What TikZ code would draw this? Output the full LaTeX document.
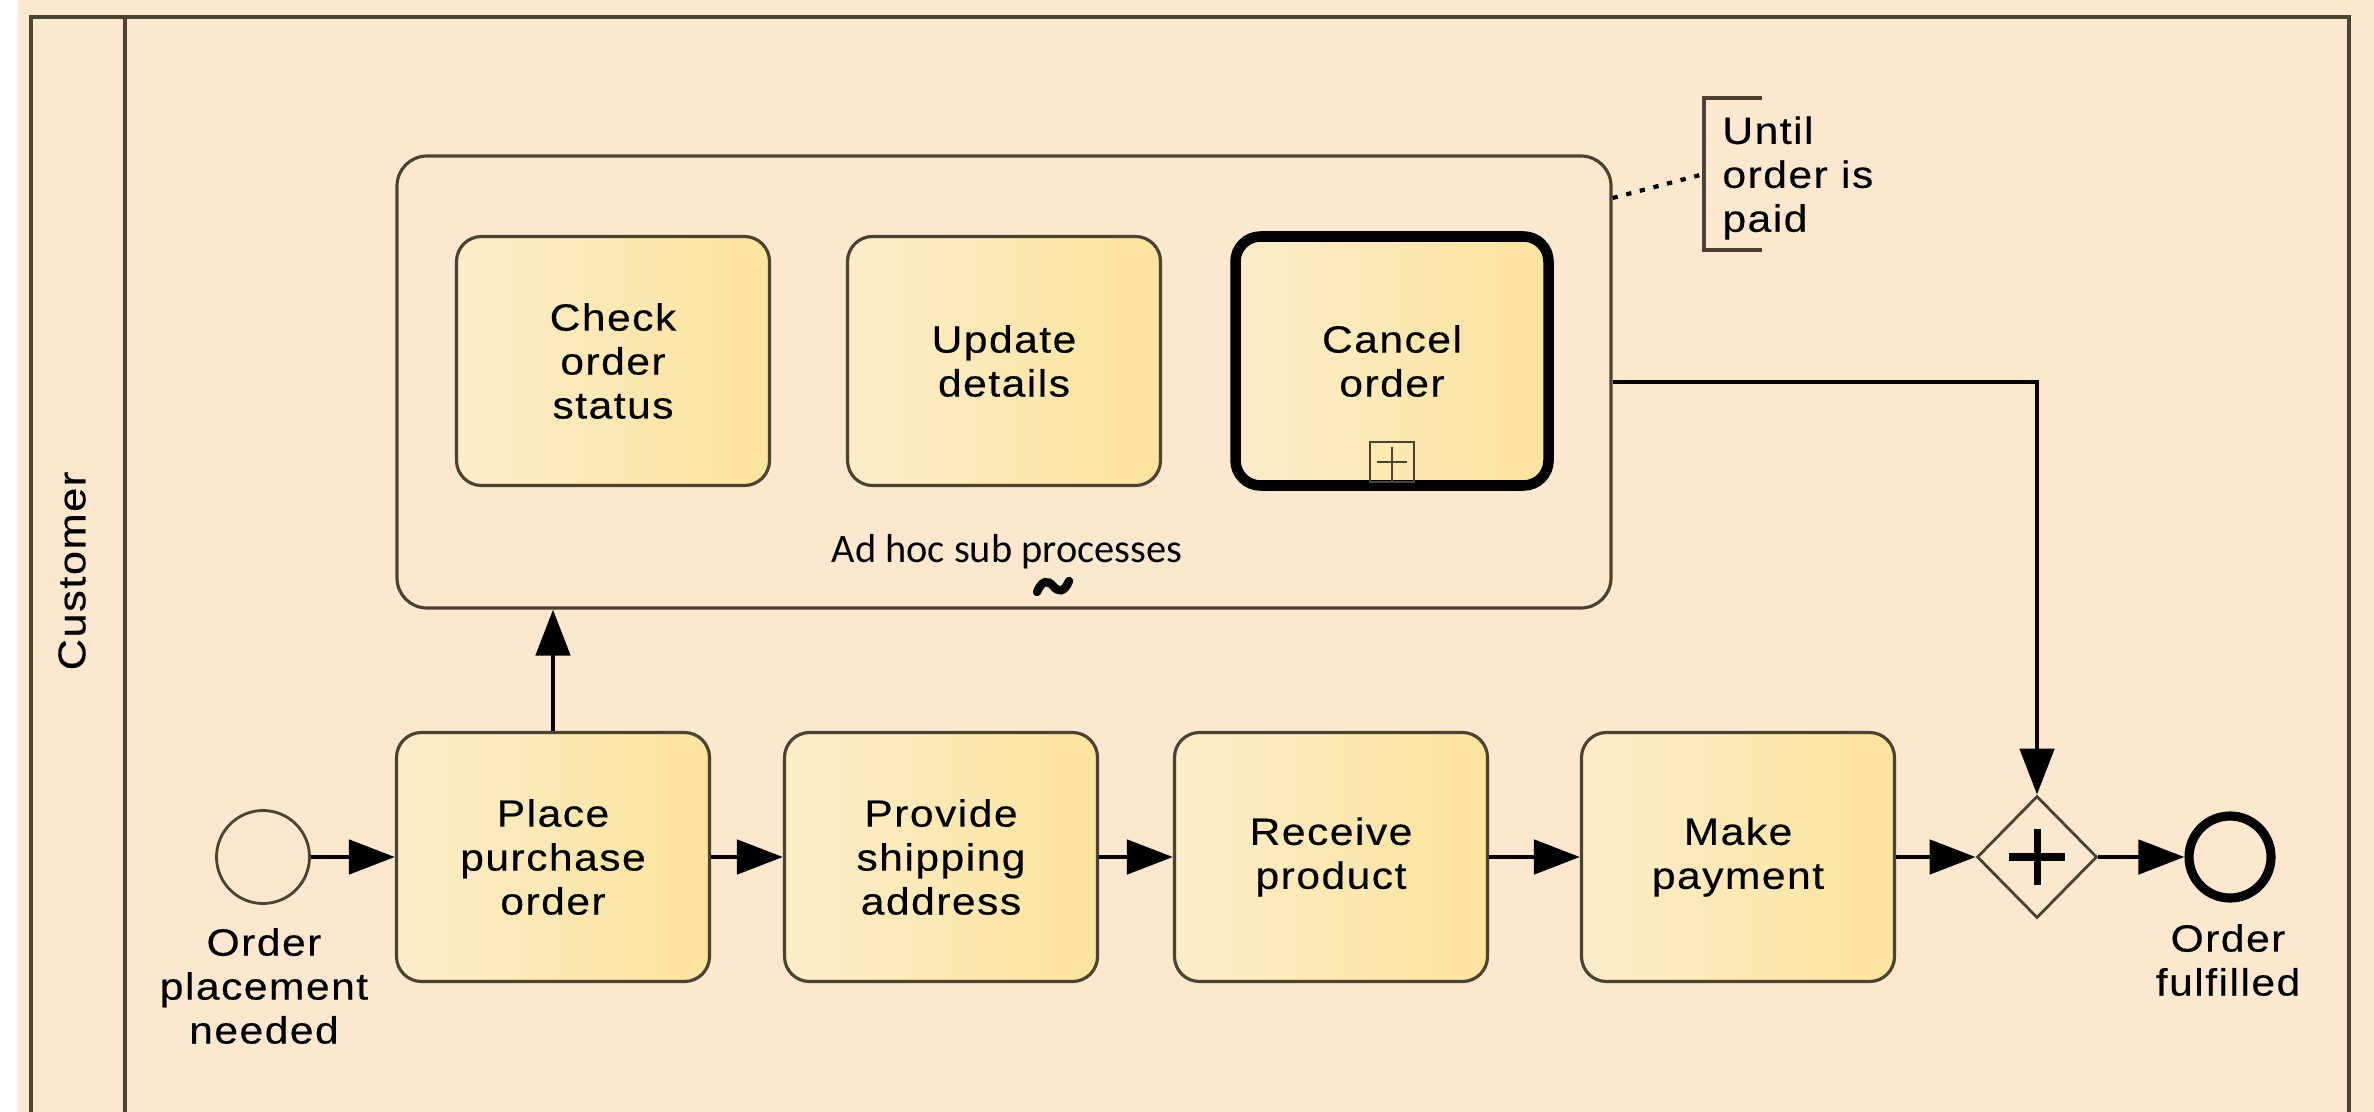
\documentclass[tikz,border=0pt]{standalone}
\usepackage{fontspec}
\setmainfont{Liberation Sans}[LetterSpace=4,FakeStretch=1.12,FakeBold=0.4]
\newfontfamily\notefont{Carlito}
\usetikzlibrary{arrows.meta,shapes.geometric,positioning}
\definecolor{paper}{RGB}{251,232,207}
\definecolor{taskL}{RGB}{252,237,202}
\definecolor{taskR}{RGB}{251,228,155}
\definecolor{edge}{RGB}{75,66,50}

\begin{document}
\begin{tikzpicture}[x=1cm,y=-1cm,
  every node/.style={font=\fontsize{10.8}{12.5}\selectfont},
  task/.style={draw=edge,line width=0.9pt,rounded corners=0.25cm,left color=taskL,right color=taskR,
    minimum width=3.13cm,minimum height=2.49cm,align=center},
  flow/.style={line width=1.4pt,-{Triangle[length=0.46cm,width=0.34cm]}}]
\fill[white] (0,0) rectangle (23.74,11.12);
\fill[paper] (0.18,0) rectangle (23.74,11.12);
\useasboundingbox (0,0) rectangle (23.74,11.12);

% pool and lane
\draw[edge,line width=1pt] (0.31,11.3) -- (0.31,0.17) -- (23.49,0.17) -- (23.49,11.3);
\draw[edge,line width=1pt] (1.25,0.17) -- (1.25,11.3);
\node[rotate=90,font=\fontsize{11}{13}\selectfont] (lane) at (0.72,5.71) {Customer};

% ad hoc sub process
\node[draw=edge,line width=0.9pt,rounded corners=0.3cm,minimum width=12.14cm,minimum height=4.52cm] (adhoc) at (10.04,3.82) {};
\node[task] (check) at (6.13,3.61) {Check\\order\\status};
\node[task] (update) at (10.04,3.61) {Update\\details};
\node[task,draw=black,line width=3pt] (cancel) at (13.92,3.61) {Cancel\\order};
\node[draw=edge,line width=0.6pt,minimum width=0.44cm,minimum height=0.40cm,inner sep=0,anchor=south] (expand) at (13.92,4.83) {};
\draw[edge,line width=0.6pt] ([xshift=-0.15cm]expand.center) -- ([xshift=0.15cm]expand.center);
\draw[edge,line width=0.6pt] ([yshift=0.15cm]expand.center) -- (expand.south);
\node[font=\notefont\fontsize{11.5}{13}\selectfont,anchor=base] (adhoclbl) at (10.07,5.62) {Ad hoc sub processes};
% ad hoc marker
\draw[line width=2.4pt,line cap=round] (10.37,5.92) .. controls (10.42,5.80) and (10.48,5.80) .. (10.53,5.86)
  .. controls (10.58,5.92) and (10.64,5.93) .. (10.69,5.81);

% annotation
\coordinate (notemid) at (17.04,1.74);
\draw[edge,line width=1pt] (17.62,0.98) -- (17.04,0.98) -- (17.04,2.50) -- (17.62,2.50);
\draw[line width=1.2pt,dash pattern=on 1.5pt off 2.5pt] (adhoc.east |- 0,1.98) -- (notemid);
\node[anchor=west,align=left] (note) at (17.10,1.78) {Until\\order is\\paid};

% main flow
\node[circle,draw=edge,line width=0.8pt,minimum size=0.93cm,inner sep=0] (start) at (2.63,8.57) {};
\node[align=center] (startlbl) at (2.64,9.86) {Order\\placement\\needed};
\node[task] (place) at (5.53,8.57) {Place\\purchase\\order};
\node[task] (ship) at (9.41,8.57) {Provide\\shipping\\address};
\node[task] (receive) at (13.31,8.57) {Receive\\product};
\node[task] (pay) at (17.38,8.57) {Make\\payment};
\node[diamond,draw=edge,line width=0.8pt,minimum width=1.2cm,minimum height=1.22cm,inner sep=0] (join) at (20.37,8.57) {};
\draw[line width=2pt] ([xshift=-0.28cm]join.center) -- ([xshift=0.28cm]join.center);
\draw[line width=2pt] ([yshift=-0.28cm]join.center) -- ([yshift=0.28cm]join.center);
\node[circle,draw=black,line width=2.6pt,minimum size=0.82cm,inner sep=0] (done) at (22.30,8.57) {};
\node[align=center] (donelbl) at (22.28,9.60) {Order\\fulfilled};

\draw[flow] (start) -- (place);
\draw[flow] (place) -- (ship);
\draw[flow] (ship) -- (receive);
\draw[flow] (receive) -- (pay);
\draw[flow] (pay) -- (join);
\draw[flow] (join) -- (done);
\draw[flow] (place.north) -- (place.north |- adhoc.south);
\draw[flow] (adhoc.east) -| (join.north);
\end{tikzpicture}
\end{document}
